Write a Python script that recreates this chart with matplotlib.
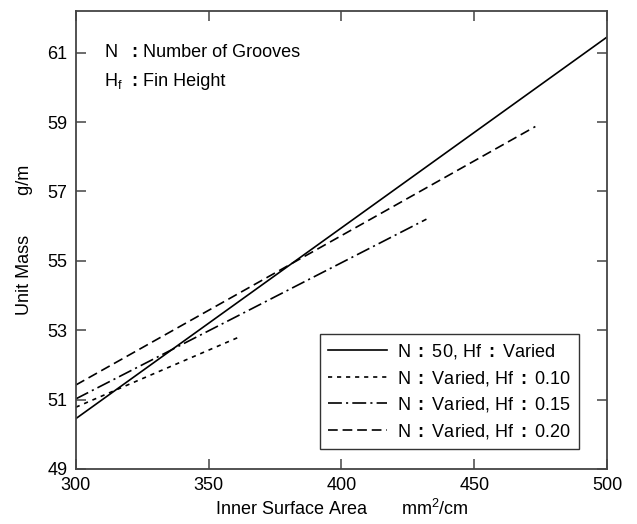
import matplotlib

matplotlib.use("Agg")
import matplotlib.pyplot as plt

plt.rcParams["font.family"] = ["Liberation Sans", "DejaVu Sans"]
plt.rcParams["mathtext.fontset"] = "custom"
plt.rcParams["mathtext.rm"] = "Liberation Sans"
plt.rcParams["mathtext.bf"] = "Liberation Sans:bold"
plt.rcParams["mathtext.it"] = "Liberation Sans:italic"
plt.rcParams["lines.scale_dashes"] = False

# series: (x, unit mass) end points
x_n50 = [300, 500]
y_n50 = [50.45, 61.45]
x_hf010 = [300, 362]
y_hf010 = [50.78, 52.82]
x_hf015 = [300, 432]
y_hf015 = [51.02, 56.2]
x_hf020 = [300, 473]
y_hf020 = [51.42, 58.87]

labels = [
    r"N $\mathbf{:}$ 50, Hf $\mathbf{:}$ Varied",
    r"N $\mathbf{:}$ Varied, Hf $\mathbf{:}$ 0.10",
    r"N $\mathbf{:}$ Varied, Hf $\mathbf{:}$ 0.15",
    r"N $\mathbf{:}$ Varied, Hf $\mathbf{:}$ 0.20",
]
x_ticks = [300, 350, 400, 450, 500]
y_ticks = [49, 51, 53, 55, 57, 59, 61]

fs = 13
fig = plt.figure(figsize=(6.37, 5.24), dpi=100)
ax = fig.add_axes([0.119, 0.105, 0.834, 0.874])

lw = 1.2
ax.plot(x_n50, y_n50, color="black", lw=lw, label=labels[0])
ax.plot(x_hf010, y_hf010, color="black", lw=lw, dashes=(3, 3.5), label=labels[1])
ax.plot(x_hf015, y_hf015, color="black", lw=lw, dashes=(10, 3, 1.5, 3), label=labels[2])
ax.plot(x_hf020, y_hf020, color="black", lw=lw, dashes=(7, 3.5), label=labels[3])

ax.set_xlim(300, 500)
ax.set_ylim(49, 62.2)
ax.set_xticks(x_ticks)
ax.set_yticks(y_ticks)
ax.tick_params(direction="in", length=7, width=1.1, color="#444444",
               labelsize=fs, top=True, right=True, pad=6)
for s in ax.spines.values():
    s.set_color("#444444")
    s.set_linewidth(1.3)

ax.set_xlabel(r"Inner Surface Area       mm$^\mathregular{2}$/cm", fontsize=fs, labelpad=3)
ax.set_ylabel("Unit Mass        g/m", fontsize=fs, labelpad=10)

# notes in the upper left corner
tk = dict(transform=ax.transAxes, fontsize=fs, va="center")
ax.text(0.054, 0.910, "N", **tk)
ax.text(0.105, 0.910, ":", fontweight="bold", **tk)
ax.text(0.127, 0.910, "Number of Grooves", **tk)
ax.text(0.054, 0.847, r"H$_\mathregular{f}$", **tk)
ax.text(0.105, 0.847, ":", fontweight="bold", **tk)
ax.text(0.127, 0.847, "Fin Height", **tk)

leg = ax.legend(loc="lower right", bbox_to_anchor=(0.947, 0.044), fontsize=fs,
                handlelength=3.3, handletextpad=0.55, labelspacing=0.42,
                borderpad=0.45, borderaxespad=0, fancybox=False, framealpha=1,
                edgecolor="#333333")
leg.get_frame().set_linewidth(1.0)

fig.savefig("out.png", dpi=100)
